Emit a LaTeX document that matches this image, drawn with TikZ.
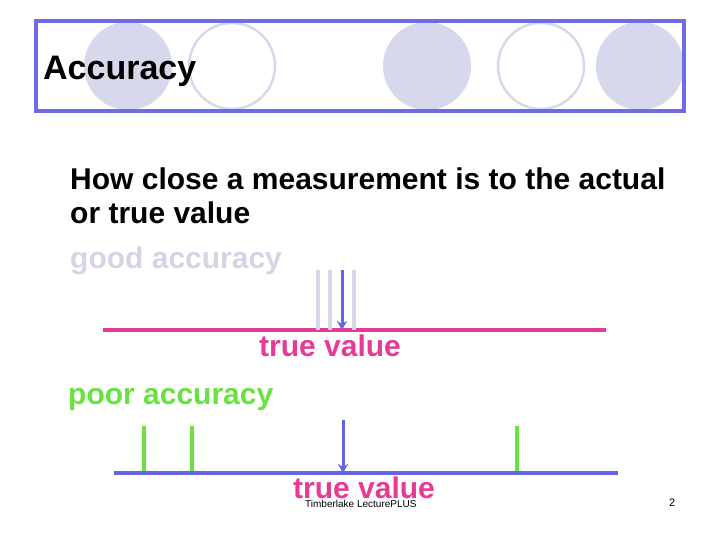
\documentclass[tikz,border=0pt]{standalone}
\usepackage{fontspec}
\setmainfont{Liberation Sans}
\usetikzlibrary{arrows.meta,positioning}

\definecolor{frameblue}{RGB}{108,108,232}
\definecolor{lilac}{RGB}{216,216,236}
\definecolor{hotpink}{RGB}{232,58,148}
\definecolor{limegreen}{RGB}{104,226,64}
\definecolor{arrowblue}{RGB}{100,100,228}

\begin{document}
\begin{tikzpicture}[x=1pt,y=-1pt,
    txt/.style={anchor=base west, inner sep=0pt, font=\fontsize{30}{34}\selectfont\bfseries},
    disc/.style={circle, minimum size=88pt, inner sep=0pt, fill=lilac},
    ring/.style={circle, minimum size=86pt, inner sep=0pt, draw=lilac, line width=2.5pt},
    shot/.style={line width=3.5pt},
    truearrow/.style={arrowblue, line width=3pt, -{Stealth[length=9pt,width=10pt]}}]
\useasboundingbox (0,0) rectangle (720,540);

% header
\node[disc] (d1) at (128,66) {};
\node[ring] (r1) at (232,66) {};
\node[disc] (d2) at (427,66) {};
\node[ring] (r2) at (541,66) {};
\node[disc] (d3) at (640,66) {};
\draw[frameblue, line width=4pt] (36,21) rectangle (684,111);
\node[txt, font=\fontsize{34}{40}\selectfont\bfseries] (title) at (43,80) {Accuracy};

% text
\node[txt] (def1) at (70,190) {How close a measurement is to the actual};
\node[txt] (def2) at (70,224) {or true value};
\node[txt, text=lilac!95!gray] (good) at (70,268) {good accuracy};

% good accuracy scale
\coordinate (ga) at (103,330);
\coordinate (gb) at (606,330);
\draw[hotpink, line width=4pt] (ga) -- (gb);
\foreach \x in {318,330,354}
  \draw[shot, lilac] (\x,270) -- (\x,330);
\coordinate (gtop) at (342,270);
\coordinate (gtip) at (342,330);
\draw[truearrow] (gtop) -- (gtip);
\node[txt, text=hotpink] (gtrue) at (259,356) {true value};

% poor accuracy scale
\node[txt, text=limegreen] (poor) at (68,404) {poor accuracy};
\coordinate (pa) at (114,473);
\coordinate (pb) at (618,473);
\foreach \x in {144,192,517}
  \draw[shot, limegreen] (\x,426) -- (\x,473);
\draw[arrowblue, line width=4pt] (pa) -- (pb);
\coordinate (ptop) at (343,420);
\coordinate (ptip) at (343,473);
\draw[truearrow] (ptop) -- (ptip);
\node[txt, text=hotpink] (ptrue) at (293,498) {true value};

% footer
\node[anchor=base west, inner sep=0pt, font=\fontsize{10}{12}\selectfont] (credit) at (305,507) {Timberlake LecturePLUS};
\node[anchor=base west, inner sep=0pt, font=\fontsize{11}{13}\selectfont] (page) at (669,506) {2};
\end{tikzpicture}
\end{document}
